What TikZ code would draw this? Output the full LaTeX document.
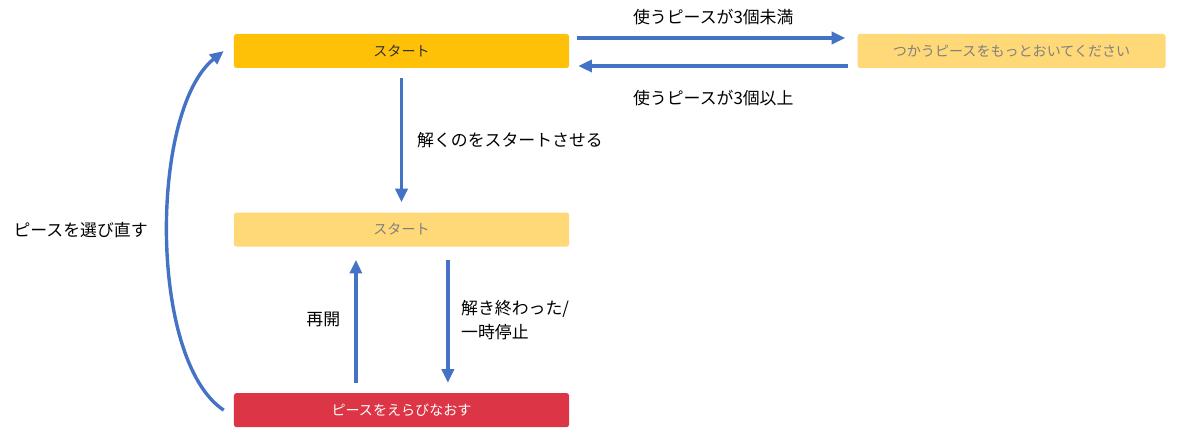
\documentclass[tikz,border=0pt]{standalone}
\usepackage{fontspec}
\setmainfont{Noto Sans CJK JP}
\usetikzlibrary{positioning, arrows.meta}
\definecolor{amber}{HTML}{FFC107}
\definecolor{pale}{HTML}{FFD878}
\definecolor{crim}{HTML}{DC3545}
\definecolor{flowblue}{HTML}{4472C4}

\begin{document}
\begin{tikzpicture}[x=0.25mm, y=-0.25mm,
                box/.style={rounded corners=0.6mm, minimum width=83.75mm, minimum height=8.5mm, inner sep=0mm, font=\fontsize{10}{12}\selectfont},
                amb/.style={box, fill=amber, text=black!80},
                lt/.style={box, fill=pale, text=black!50},
                rd/.style={box, fill=crim, text=white},
                fl/.style={draw=flowblue, line width=0.85mm, -{Triangle[length=3.4mm, width=3mm]}},
                lbl/.style={font=\fontsize{12}{17}\selectfont, text=black, inner sep=0.5mm, align=left},
                node distance=36mm]

    \useasboundingbox (0,0) rectangle (1200,433); % same size as the reference

    \node [amb] (st)   at (401.5,51) {スタート};
    \node [lt, minimum width=77mm, right=72mm of st] (more) {つかうピースをもっとおいてください};
    \node [lt, below=of st] (run) {スタート};
    \node [rd, below=36.5mm of run] (redo) {ピースをえらびなおす};

    \draw [fl, shorten <=2mm, shorten >=3mm] ([yshift=3.25mm]st.east) -- node [lbl, above=2.4mm] {使うピースが3個未満} ([yshift=3.25mm]st.east -| more.west);
    \draw [fl, shorten <=2.25mm, shorten >=2.25mm] ([yshift=-3.75mm]st.east -| more.west) -- node [lbl, below=5.1mm] {使うピースが3個以上} ([yshift=-3.75mm]st.east);

    \draw [fl, shorten <=2.5mm, shorten >=2.5mm] (st) -- node [lbl, right=3mm] {解くのをスタートさせる} (run);
    \draw [fl, shorten <=2.5mm, shorten >=3.25mm] ([xshift=-11.4mm]redo.north) -- node [lbl, left=3mm] {再開} ([xshift=-11.4mm]run.south);
    \draw [fl, shorten <=3.25mm, shorten >=2.5mm] ([xshift=11.6mm]run.south) -- node [lbl, right=2.4mm] {解き終わった/\\一時停止} ([xshift=11.6mm]redo.north);

    % back to the top box
    \coordinate (lo) at ([xshift=-2.5mm]redo.west);
    \coordinate (hi) at ([xshift=-2.5mm]st.west);
    \draw [fl] (lo) .. controls (148,360) and (150,110) .. (hi);
    \node [lbl, anchor=east] (back) at (150,230) {ピースを選び直す};

\end{tikzpicture}
\end{document}
